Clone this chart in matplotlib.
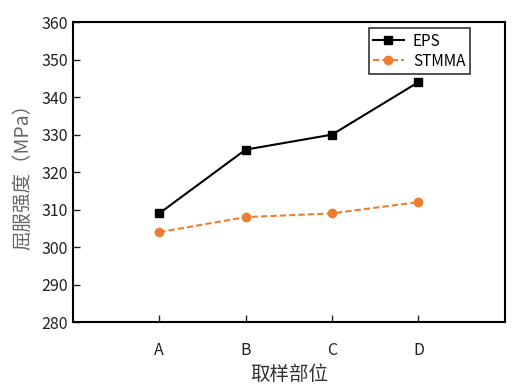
import matplotlib
matplotlib.use("Agg")
import matplotlib.pyplot as plt

plt.rcParams['font.family'] = ['Noto Sans CJK SC', 'DejaVu Sans']

categories = ["A", "B", "C", "D"]
eps = [309, 326, 330, 344]
stmma = [304, 308, 309, 312]

fig = plt.figure(figsize=(5.13, 3.89), dpi=100)
ax = fig.add_axes([0.142, 0.172, 0.842, 0.771])

x = range(1, len(categories) + 1)
ax.plot(x, eps, color="black", marker="s", markersize=6, linewidth=1.5, label="EPS")
ax.plot(x, stmma, color="#ed7d31", marker="o", markersize=6, linewidth=1.5,
        linestyle=(0, (3, 1.5)), label="STMMA")

ax.set_xlim(0, 5)
ax.set_ylim(280, 360)
ax.set_xticks(list(x))
ax.set_xticklabels(categories)
ax.set_yticks(range(280, 361, 10))
ax.tick_params(direction="in", labelsize=11.5, length=5, width=1, colors="#222222")
ax.tick_params(axis="x", pad=14)
for s in ax.spines.values():
    s.set_linewidth(1.5)

ax.set_xlabel("取样部位", fontsize=14, labelpad=4, color="#333333")
ax.set_ylabel("屈服强度（MPa）", fontsize=14, color="#666666", labelpad=6)

leg = ax.legend(loc="upper right", bbox_to_anchor=(0.919, 0.98), borderaxespad=0,
                fontsize=11, frameon=True, fancybox=False, edgecolor="black",
                handlelength=2.0, handletextpad=0.6, borderpad=0.3, labelspacing=0.2)
leg.get_frame().set_linewidth(1.2)

fig.savefig("out.png", dpi=100)
